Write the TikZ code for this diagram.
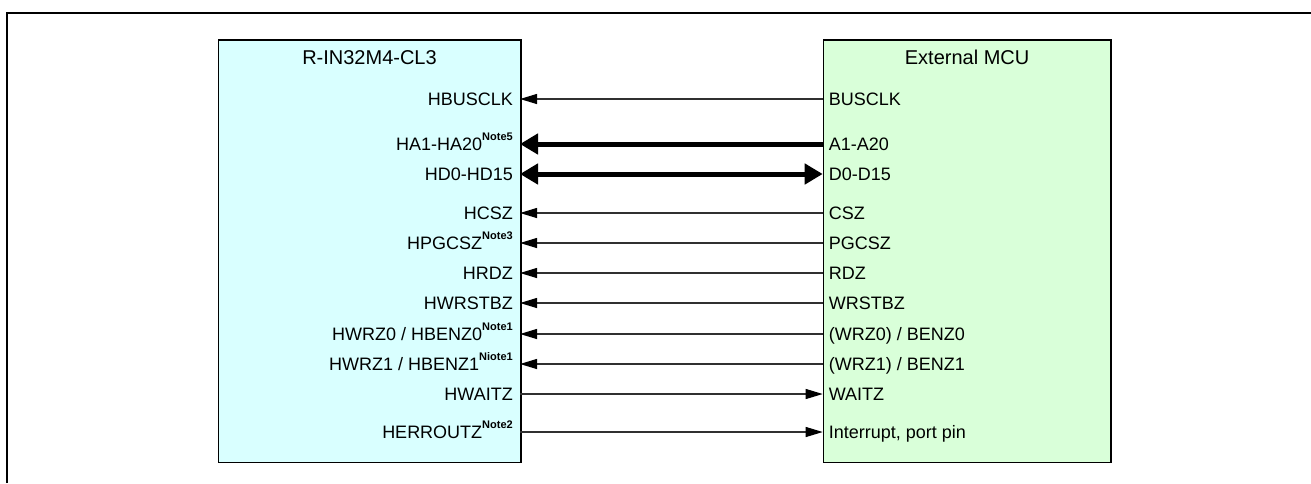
\documentclass[tikz,border=0pt]{standalone}
\usepackage{fontspec}
\setmainfont{Liberation Sans}
\usetikzlibrary{positioning, arrows.meta}
\definecolor{rinfill}{HTML}{D9FFFF}
\definecolor{mcufill}{HTML}{D9FFD9}
\definecolor{wiregray}{HTML}{303030}
\newcommand{\thinarrow}{-{Triangle[length=17pt,width=10pt,color=black]}}
\newcommand{\busarrow}{-{Triangle[length=18pt,width=20pt]}}
\newcommand{\busboth}{{Triangle[length=18pt,width=20pt]}-{Triangle[length=18pt,width=20pt]}}
\newcommand{\pinnote}[1]{\raisebox{10pt}{\fontsize{11}{11}\selectfont\bfseries #1}}

\begin{document}
\begin{tikzpicture}[x=1pt, y=-1pt,
    chip/.style={draw, line width=1.5pt, inner sep=0pt, anchor=north west},
    title/.style={font=\fontsize{20}{20}\selectfont, anchor=base, yshift=-7pt},
    lpin/.style={font=\fontsize{18}{18}\selectfont, anchor=base east, xshift=-7pt, yshift=-6.4pt, inner sep=0pt},
    rpin/.style={font=\fontsize{18}{18}\selectfont, anchor=base west, xshift=6pt, yshift=-6.4pt, inner sep=0pt},
    wire/.style={draw=wiregray, line width=1.1pt},
    bus/.style={draw=black, line width=5pt}]
    \useasboundingbox (0,0) rectangle (1311,483);
    % outer frame
    \draw[line width=1.7pt] (7.3,483) -- (7.3,13) -- (1311,13);

    % the two chips
    \node[chip, fill=rinfill, minimum width=302.5pt, minimum height=422.5pt] (rin) at (217.5,39) {};
    \node[chip, fill=mcufill, minimum width=287.3pt, minimum height=422.5pt] (mcu) at (822.7,39) {};
    \node[title] (rintitle) at (rin.north |- 0,57) {R-IN32M4-CL3};
    \node[title] (mcutitle) at (mcu.north |- 0,57) {External MCU};

    % pins on R-IN32M4-CL3
    \coordinate (la) at (520,99);
    \coordinate (lb) at (520,144);
    \coordinate (lc) at (520,174);
    \coordinate (ld) at (520,213);
    \coordinate (le) at (520,243);
    \coordinate (lf) at (520,273);
    \coordinate (lg) at (520,303);
    \coordinate (lh) at (520,334);
    \coordinate (li) at (520,364);
    \coordinate (lj) at (520,394);
    \coordinate (lk) at (520,432);
    % pins on external MCU
    \coordinate (ra) at (822.7,99);
    \coordinate (rb) at (822.7,144);
    \coordinate (rc) at (822.7,174);
    \coordinate (rd) at (822.7,213);
    \coordinate (re) at (822.7,243);
    \coordinate (rf) at (822.7,273);
    \coordinate (rg) at (822.7,303);
    \coordinate (rh) at (822.7,334);
    \coordinate (ri) at (822.7,364);
    \coordinate (rj) at (822.7,394);
    \coordinate (rk) at (822.7,432);

    \node[lpin] (hbusclk) at (la) {HBUSCLK};
    \node[lpin] (haddr) at (lb) {HA1-HA20\pinnote{Note5}};
    \node[lpin] (hdata) at (lc) {HD0-HD15};
    \node[lpin] (hcsz) at (ld) {HCSZ};
    \node[lpin] (hpgcsz) at (le) {HPGCSZ\pinnote{Note3}};
    \node[lpin] (hrdz) at (lf) {HRDZ};
    \node[lpin] (hwrstbz) at (lg) {HWRSTBZ};
    \node[lpin] (hwrzzero) at (lh) {HWRZ0 / HBENZ0\pinnote{Note1}};
    \node[lpin] (hwrzone) at (li) {HWRZ1 / HBENZ1\pinnote{Niote1}};
    \node[lpin] (hwaitz) at (lj) {HWAITZ};
    \node[lpin] (herroutz) at (lk) {HERROUTZ\pinnote{Note2}};

    \node[rpin] (busclk) at (ra) {BUSCLK};
    \node[rpin] (addr) at (rb) {A1-A20};
    \node[rpin] (data) at (rc) {D0-D15};
    \node[rpin] (csz) at (rd) {CSZ};
    \node[rpin] (pgcsz) at (re) {PGCSZ};
    \node[rpin] (rdz) at (rf) {RDZ};
    \node[rpin] (wrstbz) at (rg) {WRSTBZ};
    \node[rpin] (wrzzero) at (rh) {(WRZ0) / BENZ0};
    \node[rpin] (wrzone) at (ri) {(WRZ1) / BENZ1};
    \node[rpin] (waitz) at (rj) {WAITZ};
    \node[rpin] (intpin) at (rk) {Interrupt, port pin};

    % connections
    \draw[wire, \thinarrow] (ra) -- (la);
    \draw[bus, \busarrow] (rb) -- (lb);
    \draw[bus, \busboth] (lc) -- (rc);
    \draw[wire, \thinarrow] (rd) -- (ld);
    \draw[wire, \thinarrow] (re) -- (le);
    \draw[wire, \thinarrow] (rf) -- (lf);
    \draw[wire, \thinarrow] (rg) -- (lg);
    \draw[wire, \thinarrow] (rh) -- (lh);
    \draw[wire, \thinarrow] (ri) -- (li);
    \draw[wire, \thinarrow] (lj) -- (rj);
    \draw[wire, \thinarrow] (lk) -- (rk);
\end{tikzpicture}
\end{document}
